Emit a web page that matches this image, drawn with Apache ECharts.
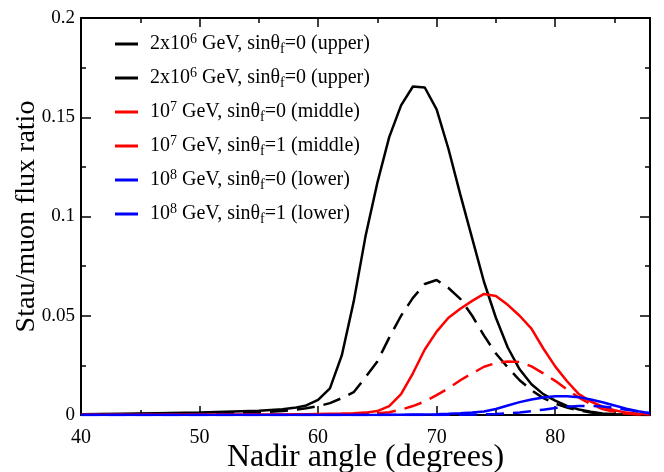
<!DOCTYPE html>
<html><head><meta charset="utf-8">
<script src="https://cdn.jsdelivr.net/npm/echarts@6/dist/echarts.min.js"></script>
<style>html,body{margin:0;padding:0;background:#fff}#c{width:664px;height:472px}</style>
</head><body><div id="c"></div>
<script>
// ---- data ----
const angles = [40,45,50,55,57,58,59,60,61,62,63,64,65,66,67,68,69,70,71,72,73,74,75,76,77,78,79,80,81,82,83,84,85,86,87,88];
const blackSolid  = [0.0004,0.0008,0.0012,0.0021,0.0029,0.0036,0.0048,0.0076,0.0134,0.030,0.057,0.090,0.117,0.140,0.156,0.1655,0.165,0.154,0.134,0.111,0.089,0.067,0.049,0.034,0.023,0.0155,0.0105,0.0072,0.0046,0.0028,0.0016,0.0008,0.0004,0.0002,0.0001,0.0];
const blackDashed = [0.0002,0.0005,0.0008,0.0013,0.0020,0.0026,0.0034,0.0044,0.0060,0.0085,0.0115,0.019,0.027,0.039,0.050,0.059,0.066,0.068,0.064,0.0585,0.050,0.040,0.031,0.024,0.0175,0.0125,0.0085,0.0058,0.0037,0.0023,0.0013,0.0007,0.0003,0.0001,0.0,0.0];
const redSolid    = [0.0001,0.0001,0.0002,0.0003,0.0003,0.0004,0.0004,0.0005,0.0006,0.0007,0.0009,0.0012,0.0020,0.0045,0.0105,0.021,0.033,0.042,0.049,0.0535,0.0575,0.061,0.060,0.0555,0.050,0.0435,0.0335,0.0245,0.017,0.0105,0.0068,0.0042,0.0024,0.0012,0.0006,0.0003];
const redDashed   = [0.0001,0.0001,0.0001,0.0001,0.0001,0.0001,0.0001,0.0002,0.0002,0.0003,0.0004,0.0006,0.0009,0.0014,0.0027,0.0045,0.0068,0.0100,0.0135,0.0175,0.0210,0.0243,0.0262,0.0270,0.0267,0.0245,0.0210,0.0172,0.0128,0.0088,0.0055,0.0030,0.0015,0.0007,0.0003,0.0001];
const blueSolid   = [0,0,0,0,0,0,0,0,0,0,0,0,0,0.0001,0.0001,0.0002,0.0003,0.0004,0.0006,0.0009,0.0013,0.0018,0.0030,0.0048,0.0065,0.0078,0.0088,0.0094,0.0095,0.0090,0.0078,0.0064,0.0048,0.0032,0.0019,0.0009];
const blueDashed  = [0,0,0,0,0,0,0,0,0,0,0,0,0,0,0,0,0,0,0.0001,0.0001,0.0002,0.0003,0.0005,0.0008,0.0013,0.0019,0.0027,0.0035,0.0041,0.0045,0.0046,0.0043,0.0036,0.0027,0.0017,0.0009];

const seriesNames = ['2x10^6 GeV, sinθf=0 (upper, solid)','2x10^6 GeV, sinθf=0 (upper, dashed)','10^7 GeV, sinθf=0 (middle)','10^7 GeV, sinθf=1 (middle)','10^8 GeV, sinθf=0 (lower)','10^8 GeV, sinθf=1 (lower)'];
const legendLabels = [
  '2x10{sup|6} GeV, sinθ{sub|f}=0 (upper)',
  '2x10{sup|6} GeV, sinθ{sub|f}=0 (upper)',
  '10{sup|7} GeV, sinθ{sub|f}=0 (middle)',
  '10{sup|7} GeV, sinθ{sub|f}=1 (middle)',
  '10{sup|8} GeV, sinθ{sub|f}=0 (lower)',
  '10{sup|8} GeV, sinθ{sub|f}=1 (lower)'
];
const xTicksMajor = 10, xTicksMinor = 5;
const yTicks = 0.05;

// ---- styling ----
const valueSets = [blackSolid, blackDashed, redSolid, redDashed, blueSolid, blueDashed];
const colors = ['#000000','#000000','#ff0000','#ff0000','#0000ff','#0000ff'];
const dashed = [false,true,false,true,false,true];
const FONT = 'Liberation Serif';

const chart = echarts.init(document.getElementById('c'), null, {renderer:'canvas'});

function xAx(pos, interval, len, main) {
  return {
    type:'value', position:pos, min:40, max:88, interval:interval,
    axisLine:{show: main, onZero:false, lineStyle:{color:'#000', width:2}},
    axisTick:{show:true, inside:true, length:len, lineStyle:{color:'#000', width:1.5}},
    axisLabel:{show: main && pos==='bottom', margin:13, fontFamily:FONT, fontSize:20, color:'#000',
      formatter: v => (v % 10 === 0 ? String(v) : '')},
    splitLine:{show:false}
  };
}
const xAxes = [xAx('bottom', xTicksMajor, 9, true), xAx('bottom', xTicksMinor, 5, false), xAx('top', xTicksMajor, 9, true), xAx('top', xTicksMinor, 5, false)];
xAxes[0].name = 'Nadir angle (degrees)';
xAxes[0].nameLocation = 'middle';
xAxes[0].nameGap = 27;
xAxes[0].nameMoveOverlap = false;
xAxes[0].nameTextStyle = {fontFamily:FONT, fontSize:32, color:'#000'};

function yAx(pos, main) {
  return {
    type:'value', position:pos, min:0, max:0.2, interval:yTicks,
    axisLine:{show:true, onZero:false, lineStyle:{color:'#000', width:2}},
    axisTick:{show:true, inside:true, length:10, lineStyle:{color:'#000', width:1.5}},
    minorTick:{show:true, splitNumber:2, length:5, lineStyle:{color:'#000', width:1.5}},
    axisLabel:{show: main, margin:6, fontFamily:FONT, fontSize:19, color:'#000'},
    splitLine:{show:false}
  };
}
const yAxes = [yAx('left', true), yAx('right', false)];
yAxes[0].name = 'Stau/muon flux ratio';
yAxes[0].nameLocation = 'middle';
yAxes[0].nameGap = 40;
yAxes[0].nameMoveOverlap = false;
yAxes[0].nameTextStyle = {fontFamily:FONT, fontSize:28, color:'#000'};

const series = valueSets.map((vals, i) => ({
  name: seriesNames[i], type:'line', xAxisIndex:0, yAxisIndex:0,
  data: angles.map((a, j) => [a, vals[j]]),
  symbol:'none', smooth:false,
  lineStyle:{color:colors[i], width:2.5, type: dashed[i] ? [18, 9] : 'solid'},
  itemStyle:{color:colors[i]},
  z: 2
}));

chart.setOption({
  animation:false,
  backgroundColor:'#fff',
  grid:{left:81, right:14, top:18, bottom:57, containLabel:false, outerBoundsMode:'none'},
  xAxis:xAxes,
  yAxis:yAxes,
  legend:{
    orient:'vertical', left:115, top:32, padding:0, itemGap:10,
    itemWidth:23, itemHeight:3, selectedMode:false,
    data: seriesNames.map(n => ({name:n, icon:'rect'})),
    formatter: name => legendLabels[seriesNames.indexOf(name)],
    textStyle:{fontFamily:FONT, fontSize:20, color:'#000', lineHeight:24, padding:[0,0,0,7],
      rich:{
        sup:{fontFamily:FONT, fontSize:14, lineHeight:13, verticalAlign:'top', color:'#000'},
        sub:{fontFamily:FONT, fontSize:14, lineHeight:13, verticalAlign:'bottom', color:'#000'}
      }}
  },
  series: series
});
</script>
</body></html>
